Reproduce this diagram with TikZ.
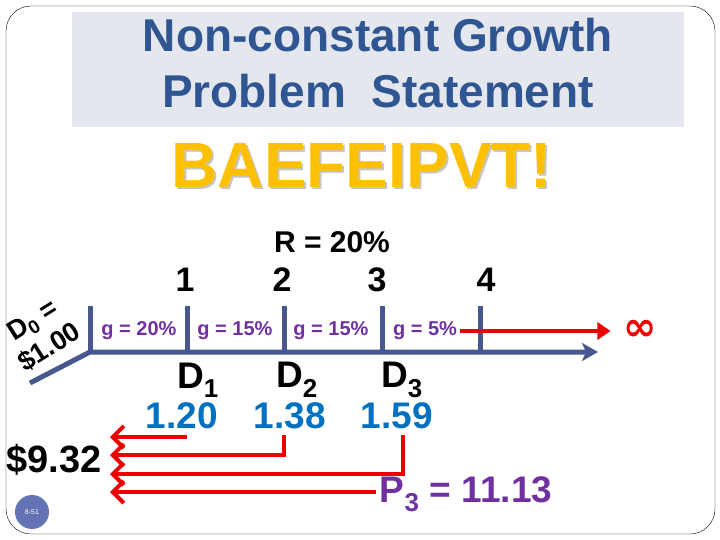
\documentclass[tikz,border=0pt]{standalone}
\usepackage{fontspec}
\setmainfont{Liberation Sans}
\newfontfamily\symbolfont{DejaVu Sans}
\usepackage{xcolor}
\usetikzlibrary{arrows.meta}

\definecolor{titlebg}{RGB}{228,232,238}
\definecolor{titleblue}{RGB}{47,85,146}
\definecolor{gold}{RGB}{255,192,0}
\definecolor{lineblue}{RGB}{72,88,142}
\definecolor{gpurple}{RGB}{112,48,160}
\definecolor{valblue}{RGB}{0,112,192}
\definecolor{arrred}{RGB}{238,0,0}
\definecolor{badge}{RGB}{99,114,180}

\newcommand{\fs}[1]{\fontsize{#1}{1.15\dimexpr #1pt\relax}\selectfont}

\begin{document}
\begin{tikzpicture}[x=1pt,y=-1pt,
    timeline/.style={lineblue,line width=5pt},
    glabel/.style={gpurple,font=\fs{20}\bfseries},
    period/.style={font=\fs{34}\bfseries},
    dnode/.style={font=\fs{37}\bfseries},
    valnode/.style={valblue,font=\fs{37}\bfseries},
    backarrow/.style={arrred,line width=4pt,-{Straight Barb[length=11pt,width=22pt]}}]
    \useasboundingbox (0,0) rectangle (720,540);
    % frame and title
    \draw[rounded corners=25pt] (6,6) rectangle (715,534);
    \fill[titlebg] (72,12) rectangle (684,127);
    \node[titleblue,align=center,font=\fs{46}\bfseries] (title) at (378,63)
        {Non-constant Growth\\[3pt]Problem\ \ Statement};
    \node[gray!45,font=\fs{64}\bfseries] at (364,167) {BAEFEIPVT!};
    \node[gold,font=\fs{64}\bfseries] (shout) at (362,165) {BAEFEIPVT!};
    \node[font=\fs{30}\bfseries] (rate) at (332,242) {R = 20\%};

    % time line
    \coordinate (tstart) at (30,383);
    \coordinate (t0) at (90,352);
    \coordinate (t1) at (187,352);
    \coordinate (t2) at (284,352);
    \coordinate (t3) at (382,352);
    \coordinate (t4) at (480,352);
    \coordinate (tend) at (598,352);
    \draw[timeline,-{Stealth[length=16pt,width=18pt,inset=4pt]}] (tstart) -- (t0) -- (tend);
    \foreach \i in {0,...,4}{
        \draw[timeline] (t\i) -- ++(0,-46);
    }
    \node[period] (p1) at (185,280) {1};
    \node[period] (p2) at (282,280) {2};
    \node[period] (p3) at (377,280) {3};
    \node[period] (p4) at (486,280) {4};

    \node[glabel] (g1) at (139,331) {g = 20\%};
    \node[glabel] (g2) at (235,331) {g = 15\%};
    \node[glabel] (g3) at (331,331) {g = 15\%};
    \node[glabel] (g4) at (425,331) {g = 5\%};
    \node[arrred,font=\fs{40}\symbolfont\bfseries,inner sep=1pt] (inf) at (640,330) {∞};
    \draw[arrred,line width=4pt,-{Triangle[length=13pt,width=17pt]}] (g4.east) -- ++(150,0);

    \node[rotate=32,align=center,font=\fs{27}\bfseries,inner sep=0pt] (d0) at (41,334)
        {D\textsubscript{0} =\\[1pt]\$1.00};

    % dividends
    \node[dnode] (d1) at (198,380) {D\textsubscript{1}};
    \node[dnode] (d2) at (297,380) {D\textsubscript{2}};
    \node[dnode] (d3) at (402,380) {D\textsubscript{3}};
    \node[valnode] (v1) at (182,416) {1.20};
    \node[valnode] (v2) at (290,416) {1.38};
    \node[valnode] (v3) at (397,416) {1.59};

    \node[font=\fs{38}\bfseries] (pv) at (54,460) {\$9.32};
    \node[gpurple,font=\fs{37}\bfseries] (pthree) at (466,494) {P\textsubscript{3} = 11.13};

    % discounting back
    \coordinate (a1) at (110,437);
    \coordinate (a2) at (110,455);
    \coordinate (a3) at (110,474);
    \coordinate (a4) at (110,492);
    \draw[backarrow] (187,437) -- (a1);
    \draw[backarrow] (v2.south -| 284,0) ++(0,2) |- (a2);
    \draw[backarrow] (v3.south -| 403,0) ++(0,2) |- (a3);
    \draw[backarrow] (pthree.west |- a4) -- (a4);

    \node[circle,fill=badge,minimum size=34pt,text=white,font=\fs{7}] (badge) at (32,512) {8-51};
\end{tikzpicture}
\end{document}
